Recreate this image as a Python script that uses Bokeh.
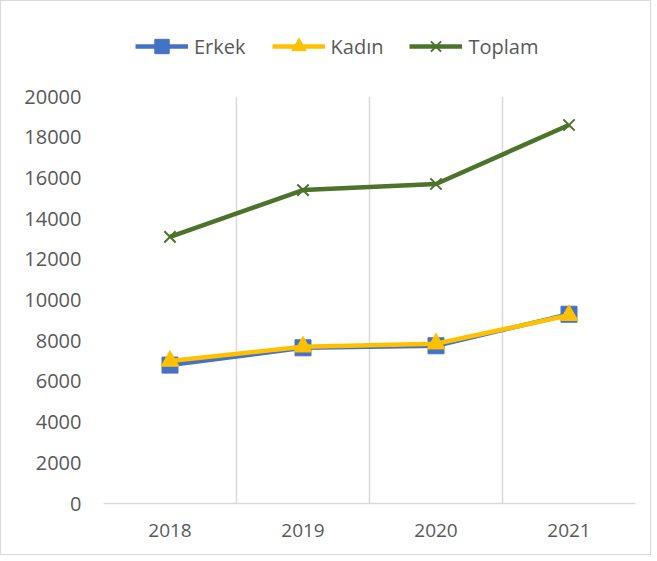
from bokeh.plotting import figure
from bokeh.layouts import column
from bokeh.models import (FactorRange, Range1d, Legend, LegendItem, FixedTicker,
                          Grid, ColumnDataSource)
from bokeh.embed import file_html
from bokeh.resources import INLINE

years = ["2018", "2019", "2020", "2021"]
erkek = [6800, 7650, 7750, 9300]
kadin = [7000, 7700, 7850, 9250]
toplam = [13100, 15400, 15700, 18600]
y_ticks = [0, 2000, 4000, 6000, 8000, 10000, 12000, 14000, 16000, 18000, 20000]
series_names = ["Erkek", "Kadın", "Toplam"]

FONT = "Open Sans"
TXT = "#595959"
GRID = "#d9d9d9"
C_ERKEK = "#4472C4"
C_KADIN = "#FFC000"
C_TOPLAM = "#4B7329"

src = ColumnDataSource(dict(x=years, erkek=erkek, kadin=kadin, toplam=toplam))

W = 649

# ---------- main chart ----------
p = figure(width=W, height=472, output_backend="svg", toolbar_location=None,
           x_range=FactorRange(*years, range_padding=0),
           y_range=Range1d(0, 20000),
           min_border_left=102, min_border_right=15, min_border_top=14,
           min_border_bottom=51)
p.outline_line_color = None
p.background_fill_color = "white"
p.border_fill_color = "white"

p.xgrid.visible = False
p.ygrid.visible = False
vgrid = Grid(dimension=0, ticker=FixedTicker(ticks=[0, 1, 2, 3, 4]),
             grid_line_color=GRID, grid_line_width=1.5)
p.add_layout(vgrid)

p.yaxis.ticker = FixedTicker(ticks=y_ticks)
p.yaxis.axis_line_color = None
p.yaxis.major_tick_line_color = None
p.yaxis.minor_tick_line_color = None
p.yaxis.major_tick_out = 0
p.yaxis.major_label_standoff = 22
p.yaxis.major_label_text_font = FONT
p.yaxis.major_label_text_font_size = "20px"
p.yaxis.major_label_text_color = TXT

p.xaxis.axis_line_color = GRID
p.xaxis.axis_line_width = 1.5
p.xaxis.major_tick_line_color = None
p.xaxis.minor_tick_line_color = None
p.xaxis.major_tick_out = 0
p.xaxis.major_label_standoff = 20
p.xaxis.major_label_text_font = FONT
p.xaxis.major_label_text_font_size = "19px"
p.xaxis.major_label_text_color = TXT

STY = [
    dict(marker="square", size=16, fill_color=C_ERKEK, line_color=C_ERKEK, line_width=1),
    dict(marker="triangle", size=18, fill_color=C_KADIN, line_color=C_KADIN, line_width=1),
    dict(marker="x", size=16, fill_color=None, line_color=C_TOPLAM, line_width=2),
]
LINE_C = [C_ERKEK, C_KADIN, C_TOPLAM]
cols = ["erkek", "kadin", "toplam"]

for c, lc, st in zip(cols, LINE_C, STY):
    p.line("x", c, source=src, line_color=lc, line_width=4.5)
    p.scatter("x", c, source=src, **st)

# ---------- legend strip (same series; values fall outside its 0..1 range) ----------
lg = figure(width=W, height=81, output_backend="svg", toolbar_location=None,
            x_range=FactorRange(*years, range_padding=0), y_range=Range1d(0, 1),
            x_axis_type=None, y_axis_type=None,
            min_border_left=102, min_border_right=15, min_border_top=0,
            min_border_bottom=0)
lg.outline_line_color = None
lg.grid.visible = False
lg.border_fill_color = "white"
lg.background_fill_color = "white"

items = []
for name, c, lc, st in zip(series_names, cols, LINE_C, STY):
    rl = lg.line("x", c, source=src, line_color=lc, line_width=4.5)
    rs = lg.scatter("x", c, source=src, **st)
    items.append(LegendItem(label=name, renderers=[rl, rs]))

legend = Legend(items=items, orientation="horizontal", location=(32, 18),
                padding=0, margin=0, spacing=26, glyph_width=53,
                glyph_height=36, label_height=36, label_standoff=6,
                border_line_color=None, background_fill_alpha=0,
                label_text_font=FONT, label_text_font_size="20px",
                label_text_color=TXT)
lg.add_layout(legend, "center")

layout = column(lg, p, spacing=0)
layout.styles = {"border": "1px solid #d9d9d9"}

open("out.html", "w").write(file_html(layout, INLINE))
